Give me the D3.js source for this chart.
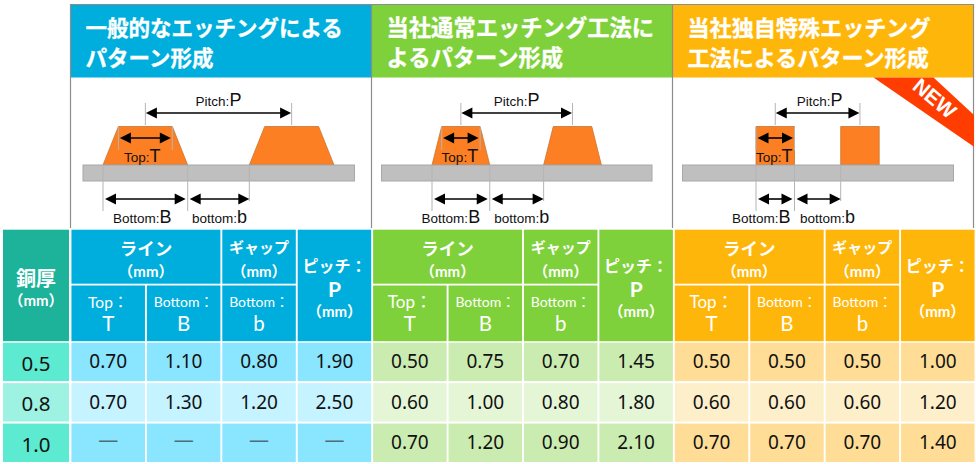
<!DOCTYPE html>
<html>
<head>
<meta charset="utf-8">
<script src="https://cdn.jsdelivr.net/npm/d3@7"></script>
<style>
  body { margin: 0; background: #fff; }
  svg { display: block; }
  text { font-family: "Noto Sans CJK JP", "Noto Sans", sans-serif; }
  .num { font-family: "Noto Sans", sans-serif; }
  .lat { font-family: Lato, "Noto Sans CJK JP", sans-serif; }
  .dia { font-family: "Liberation Sans", Arial, sans-serif; fill: #111; }
</style>
</head>
<body>
<svg id="chart" width="976" height="464"></svg>
<script>
// table values
var thickness = ["0.5", "0.8", "1.0"];
var generalT = [0.70, 0.70, null];
var generalB = [1.10, 1.30, null];
var generalGap = [0.80, 1.20, null];
var generalP = [1.90, 2.50, null];
var normalT = [0.50, 0.60, 0.70];
var normalB = [0.75, 1.00, 1.20];
var normalGap = [0.70, 0.80, 0.90];
var normalP = [1.45, 1.80, 2.10];
var specialT = [0.50, 0.60, 0.70];
var specialB = [0.50, 0.60, 0.70];
var specialGap = [0.50, 0.60, 0.70];
var specialP = [1.00, 1.20, 1.40];

// gap the sketch shows, the last one is wider than its table row
var sketchGap = [0.80, 0.70, 0.60];

var titles = [
  ["一般的なエッチングによる", "パターン形成"],
  ["当社通常エッチング工法に", "よるパターン形成"],
  ["当社独自特殊エッチング", "工法によるパターン形成"]
];

var methods = [
  { cols: [generalT, generalB, generalGap, generalP], head: "#00aedd", rows: ["#8ae5ff", "#c5f3ff"], px: 103, sub: [83, 354.5], titleSize: 21.5, shift: [-3, -3, 1, 0] },
  { cols: [normalT, normalB, normalGap, normalP], head: "#7fd13b", rows: ["#cbecb0", "#e5f6d7"], px: 432, sub: [381.5, 652], titleSize: 22.3, shift: [-1, -10, 5, 0] },
  { cols: [specialT, specialB, specialGap, specialP], head: "#ffb60a", rows: ["#ffdd96", "#feefcb"], px: 756, sub: [682.5, 953.5], titleSize: 22.1, shift: [-1, -14, 10, 2] }
];

var svg = d3.select("#chart");

// the diagrams are drawn to scale, 77px per mm
var mmToPx = 77;

var colKeys = d3.range(12);
var xCol = d3.scaleBand().domain(colKeys).range([70.5, 975.5]).paddingInner(0.025).paddingOuter(0.0125);
var yRow = d3.scaleBand().domain(d3.range(3)).range([342.7, 462]).paddingInner(0.05);

function cellRect(x, y, w, h, fill) {
  svg.append("rect").attr("x", x).attr("y", y).attr("width", w).attr("height", h).attr("fill", fill);
}

function label(x, y, str, size, opts) {
  opts = opts || {};
  return svg.append("text")
    .attr("x", x).attr("y", y)
    .attr("text-anchor", opts.anchor || "middle")
    .attr("font-size", size)
    .attr("font-weight", opts.weight || 400)
    .attr("fill", opts.fill || "#fff")
    .attr("class", opts.cls || null)
    .text(str);
}

function tick(x, y1, y2) {
  svg.append("line").attr("x1", x).attr("x2", x).attr("y1", y1).attr("y2", y2)
    .attr("stroke", "#b4b4b4").attr("stroke-width", 1);
}

function arrow(x1, x2, y) {
  var h = 11, w = 5.5;
  svg.append("line").attr("x1", x1 + h / 2).attr("x2", x2 - h / 2).attr("y1", y).attr("y2", y)
    .attr("stroke", "#000").attr("stroke-width", 1.6);
  svg.append("path").attr("fill", "#000")
    .attr("d", d3.line()([[x1, y], [x1 + h, y - w], [x1 + h, y + w]]) + "Z");
  svg.append("path").attr("fill", "#000")
    .attr("d", d3.line()([[x2, y], [x2 - h, y - w], [x2 - h, y + w]]) + "Z");
}

function drawDiagram(m, i) {
  var T = m.cols[0][0], B = m.cols[1][0], gap = sketchGap[i];
  var P = B + gap;
  var x = d3.scaleLinear().domain([0, 1]).range([m.px, m.px + mmToPx]);
  var yBase = 165, yTop = 126.5;
  var inset = (B - T) / 2;

  // copper traces
  [0, P].forEach(function(start) {
    var outline = [[x(start), yBase], [x(start + inset), yTop], [x(start + inset + T), yTop], [x(start + B), yBase]];
    svg.append("path").attr("d", d3.line()(outline) + "Z")
      .attr("fill", "#fd7f23").attr("stroke", "#c9752f").attr("stroke-width", 0.8);
  });

  // substrate
  svg.append("rect").attr("x", m.sub[0]).attr("y", yBase).attr("width", m.sub[1] - m.sub[0]).attr("height", 16)
    .attr("fill", "#bfbfbf").attr("stroke", "#a8a8a8").attr("stroke-width", 1);

  // dimension guides
  var mid = x(B / 2);
  var midNext = x(B / 2 + P);
  tick(mid, 103, 125);
  tick(midNext, 103, 125);
  tick(x(inset), 127, 150);
  tick(x(inset + T), 127, 150);
  tick(x(0), 165, 211);
  tick(x(B), 165, 211);
  tick(x(B + gap), 165, 201);

  arrow(mid + 0.5, midNext - 0.5, 113);
  arrow(x(inset) + 1.5, x(inset + T) - 1.5, 138);
  arrow(x(0) + 2, x(B) - 2, 199);
  arrow(x(B) + 2, x(B + gap), 199);

  function dimLabel(cx, y, word, letter) {
    var t = svg.append("text").attr("class", "dia").attr("x", cx).attr("y", y)
      .attr("text-anchor", "middle").attr("font-size", 13.5).text(word);
    t.append("tspan").attr("font-size", 18).text(letter);
  }
  dimLabel((mid + midNext) / 2 + m.shift[3], 106, "Pitch:", "P");
  dimLabel(mid + m.shift[0], 161.5, "Top:", "T");
  dimLabel(x(B / 2) + m.shift[1], 222.5, "Bottom:", "B");
  dimLabel(x(B + gap / 2) + m.shift[2], 222.5, "bottom:", "b");
}

// frame and title blocks
var panelEdges = [70.5, 371.5, 672.5, 973.5];
methods.forEach(function(m, i) {
  cellRect(panelEdges[i] + 0.5, 5, panelEdges[i + 1] - panelEdges[i], 72.5, m.head);
  titles[i].forEach(function(line, j) {
    label(panelEdges[i] + 15, 36 + j * 30, line, m.titleSize, { anchor: "start", weight: 700 })
      .attr("stroke", "#fff").attr("stroke-width", 0.3);
  });
});
panelEdges.forEach(function(x) {
  svg.append("line").attr("x1", x).attr("x2", x).attr("y1", 4).attr("y2", 228)
    .attr("stroke", "#8c8c8c").attr("stroke-width", 1.2);
});
svg.append("line").attr("x1", 70).attr("x2", 974).attr("y1", 4.5).attr("y2", 4.5)
  .attr("stroke", "#8c8c8c").attr("stroke-width", 1.2);

methods.forEach(drawDiagram);

// NEW ribbon
svg.append("path").attr("fill", "#ff3d00")
  .attr("d", d3.line()([[873.5, 77.5], [933.5, 77.5], [974, 115], [974, 146.7]]) + "Z");
svg.append("text")
  .attr("transform", "translate(930,104) rotate(40)")
  .attr("text-anchor", "middle").attr("font-size", 21).attr("font-weight", 700)
  .attr("class", "dia").style("fill", "#fff").text("NEW");

// first column
var firstX = 3, firstW = 66;
cellRect(firstX, 229.7, firstW, 111.5, "#1db29a");
label(firstX + firstW / 2, 286, "銅厚", 20, { weight: 700 });
label(firstX + firstW / 2, 305.5, "（mm）", 15, { weight: 700, cls: "lat" });
thickness.forEach(function(v, r) {
  cellRect(firstX, yRow(r), firstW, yRow.bandwidth(), r === 1 ? "#9ef2e2" : "#5cebd0");
  label(firstX + firstW / 2, yRow(r) + 28, v, 20.5, { fill: "#111", cls: "num" });
});

// one table block per method
methods.forEach(function(m, i) {
  var cols = d3.range(4).map(function(k) { return i * 4 + k; });
  var left = cols.map(function(c) { return xCol(c); });
  var w = xCol.bandwidth();
  var cx = left.map(function(v) { return v + w / 2; });

  cellRect(left[0], 229.7, left[1] + w - left[0], 54, m.head);
  cellRect(left[2], 229.7, w, 54, m.head);
  cellRect(left[3], 229.7, w, 111.5, m.head);
  cellRect(left[0], 285.5, w, 55.7, m.head);
  cellRect(left[1], 285.5, w, 55.7, m.head);
  cellRect(left[2], 285.5, w, 55.7, m.head);

  label((cx[0] + cx[1]) / 2, 255, "ライン", 17.5, { weight: 700 });
  label((cx[0] + cx[1]) / 2, 276.5, "（mm）", 15, { weight: 700, cls: "lat" });
  label(cx[2], 253, "ギャップ", 15, { weight: 700 });
  label(cx[2], 276.5, "（mm）", 15, { weight: 700, cls: "lat" });
  label(cx[3], 272, "ピッチ：", 16, { weight: 700 });
  label(cx[3], 297, "P", 21, { weight: 700, cls: "lat" });
  label(cx[3], 316.5, "（mm）", 15, { weight: 700, cls: "lat" });

  label(cx[0], 307.5, "Top：", i === 0 ? 15.5 : 17, { cls: "lat" });
  label(cx[1], 307, "Bottom：", 14, { cls: "lat" });
  label(cx[2], 307, "Bottom：", 14, { cls: "lat" });
  label(cx[0], 330.5, "T", 20.5, { cls: "lat" });
  label(cx[1], 330.5, "B", 20.5, { cls: "lat" });
  label(cx[2], 330.5, "b", 20.5, { cls: "lat" });

  thickness.forEach(function(_, r) {
    m.cols.forEach(function(col, k) {
      cellRect(left[k], yRow(r), w, yRow.bandwidth(), m.rows[r === 1 ? 1 : 0]);
      var v = col[r];
      if (v === null) {
        label(cx[k], yRow(r) + 23, "—", 20, { fill: "#4f6d78", cls: "num" });
      } else {
        label(cx[k], yRow(r) + 25.5, v.toFixed(2), 19, { fill: "#111", cls: "num" });
      }
    });
  });
});
</script>
</body>
</html>
